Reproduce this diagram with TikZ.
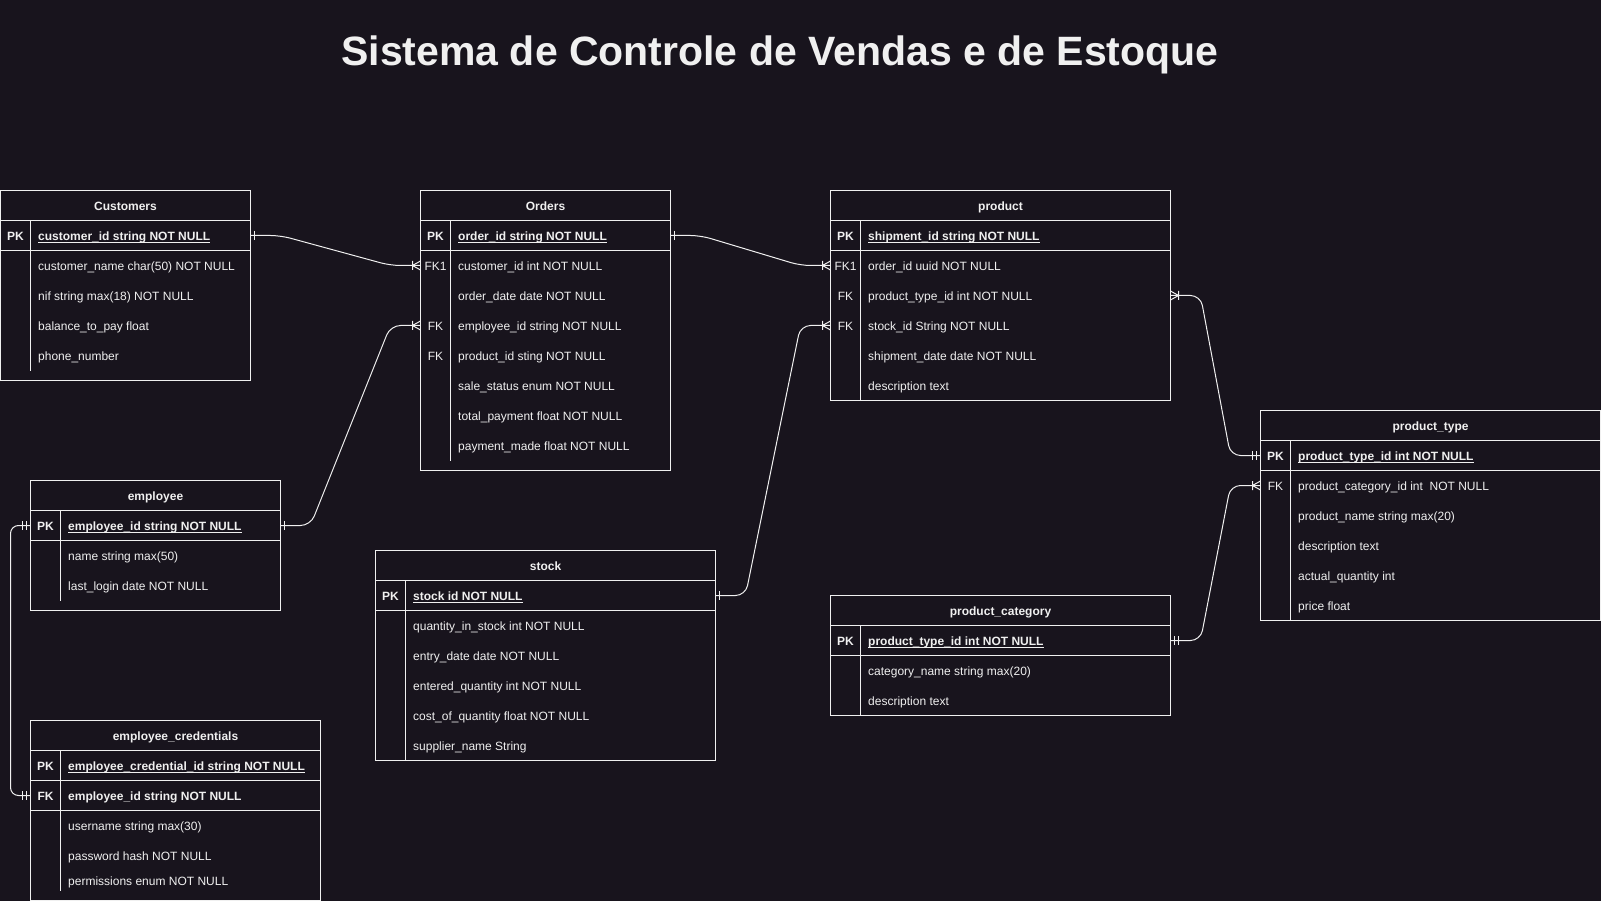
\documentclass[tikz,border=0pt]{standalone}
\usepackage{fontspec}
\setmainfont{Liberation Sans}
\usepackage{tikz}
\usetikzlibrary{calc}
\definecolor{bgc}{HTML}{18141D}
\definecolor{ink}{HTML}{F0F0F0}
\newcommand{\pkline}[1]{\setbox0\hbox{#1}\rlap{\rule[-1.8pt]{\wd0}{0.9pt}}\box0}
\tikzset{
  erbox/.style={draw=ink, line width=1pt, anchor=north west, inner sep=0pt, outer sep=0pt},
  keytxt/.style={text=ink, font=\fontsize{12}{14}\selectfont, text height=10.5pt, text depth=0pt, inner sep=0pt},
  pkkey/.style={keytxt, font=\bfseries\fontsize{12}{14}\selectfont},
  ertitle/.style={pkkey},
  fldtxt/.style={keytxt, anchor=west},
  pkfld/.style={pkkey, anchor=west},
  headline/.style={text=ink, font=\bfseries\fontsize{41}{48}\selectfont, anchor=base},
  tline/.style={draw=ink, line width=1pt},
  rel/.style={draw=ink, line width=1pt, rounded corners=10pt},
  erone/.pic={\draw[tline] (4,-4.5) -- (4,4.5);},
  ermandone/.pic={\draw[tline] (4,-4.5) -- (4,4.5) (8,-4.5) -- (8,4.5);},
  eronemany/.pic={\draw[tline] (0,-4.5) -- (8,0) -- (0,4.5) (8,-4.5) -- (8,4.5);}
}

\begin{document}
\begin{tikzpicture}[x=1pt, y=-1pt]
    \fill[bgc] (0,0) rectangle (1601,901);
    \useasboundingbox (0,0) rectangle (1601,901);
    \node[headline] (title) at (780,65.5) {Sistema de Controle de Vendas e de Estoque};

    %% Customers
    \node[erbox, minimum width=250pt, minimum height=190pt] (cust) at (0.5,190.5) {};
    \node[ertitle] (cust-t) at (125.5,205.5) {Customers};
    \draw[tline] (0.5,220.5) -- (250.5,220.5) (0.5,250.5) -- (250.5,250.5) (30.5,220.5) -- (30.5,370.5);
    \node[pkkey] (cust-k) at (15.5,235.5) {PK};
    \node[pkfld] (cust-pk) at (38,235.5) {\pkline{customer\_id string NOT NULL}};
    \node[fldtxt] (cust-1) at (38,265.5) {customer\_name char(50) NOT NULL};
    \node[fldtxt] (cust-2) at (38,295.5) {nif string max(18) NOT NULL};
    \node[fldtxt] (cust-3) at (38,325.5) {balance\_to\_pay float};
    \node[fldtxt] (cust-4) at (38,355.5) {phone\_number};

    %% Orders
    \node[erbox, minimum width=250pt, minimum height=280pt] (ord) at (420.5,190.5) {};
    \node[ertitle] (ord-t) at (545.5,205.5) {Orders};
    \draw[tline] (420.5,220.5) -- (670.5,220.5) (420.5,250.5) -- (670.5,250.5) (450.5,220.5) -- (450.5,460.5);
    \node[pkkey] (ord-k) at (435.5,235.5) {PK};
    \node[pkfld] (ord-pk) at (458,235.5) {\pkline{order\_id string NOT NULL}};
    \node[keytxt] (ord-k1) at (435.5,265.5) {FK1};
    \node[fldtxt] (ord-1) at (458,265.5) {customer\_id int NOT NULL};
    \node[fldtxt] (ord-2) at (458,295.5) {order\_date date NOT NULL};
    \node[keytxt] (ord-k3) at (435.5,325.5) {FK};
    \node[fldtxt] (ord-3) at (458,325.5) {employee\_id string NOT NULL};
    \node[keytxt] (ord-k4) at (435.5,355.5) {FK};
    \node[fldtxt] (ord-4) at (458,355.5) {product\_id sting NOT NULL};
    \node[fldtxt] (ord-5) at (458,385.5) {sale\_status enum NOT NULL};
    \node[fldtxt] (ord-6) at (458,415.5) {total\_payment float NOT NULL};
    \node[fldtxt] (ord-7) at (458,445.5) {payment\_made float NOT NULL};

    %% product
    \node[erbox, minimum width=340pt, minimum height=210pt] (prod) at (830.5,190.5) {};
    \node[ertitle] (prod-t) at (1000.5,205.5) {product};
    \draw[tline] (830.5,220.5) -- (1170.5,220.5) (830.5,250.5) -- (1170.5,250.5) (860.5,220.5) -- (860.5,400.5);
    \node[pkkey] (prod-k) at (845.5,235.5) {PK};
    \node[pkfld] (prod-pk) at (868,235.5) {\pkline{shipment\_id string NOT NULL}};
    \node[keytxt] (prod-k1) at (845.5,265.5) {FK1};
    \node[fldtxt] (prod-1) at (868,265.5) {order\_id uuid NOT NULL};
    \node[keytxt] (prod-k2) at (845.5,295.5) {FK};
    \node[fldtxt] (prod-2) at (868,295.5) {product\_type\_id int NOT NULL};
    \node[keytxt] (prod-k3) at (845.5,325.5) {FK};
    \node[fldtxt] (prod-3) at (868,325.5) {stock\_id String NOT NULL};
    \node[fldtxt] (prod-4) at (868,355.5) {shipment\_date date NOT NULL};
    \node[fldtxt] (prod-5) at (868,385.5) {description text};

    %% product_type
    \node[erbox, minimum width=340pt, minimum height=210pt] (ptype) at (1260.5,410.5) {};
    \node[ertitle] (ptype-t) at (1430.5,425.5) {product\_type};
    \draw[tline] (1260.5,440.5) -- (1600.5,440.5) (1260.5,470.5) -- (1600.5,470.5) (1290.5,440.5) -- (1290.5,620.5);
    \node[pkkey] (ptype-k) at (1275.5,455.5) {PK};
    \node[pkfld] (ptype-pk) at (1298,455.5) {\pkline{product\_type\_id int NOT NULL}};
    \node[keytxt] (ptype-k1) at (1275.5,485.5) {FK};
    \node[fldtxt] (ptype-1) at (1298,485.5) {product\_category\_id int~ NOT NULL};
    \node[fldtxt] (ptype-2) at (1298,515.5) {product\_name string max(20)};
    \node[fldtxt] (ptype-3) at (1298,545.5) {description text};
    \node[fldtxt] (ptype-4) at (1298,575.5) {actual\_quantity int};
    \node[fldtxt] (ptype-5) at (1298,605.5) {price float};

    %% employee
    \node[erbox, minimum width=250pt, minimum height=130pt] (emp) at (30.5,480.5) {};
    \node[ertitle] (emp-t) at (155.5,495.5) {employee};
    \draw[tline] (30.5,510.5) -- (280.5,510.5) (30.5,540.5) -- (280.5,540.5) (60.5,510.5) -- (60.5,600.5);
    \node[pkkey] (emp-k) at (45.5,525.5) {PK};
    \node[pkfld] (emp-pk) at (68,525.5) {\pkline{employee\_id string NOT NULL}};
    \node[fldtxt] (emp-1) at (68,555.5) {name string max(50)};
    \node[fldtxt] (emp-2) at (68,585.5) {last\_login date NOT NULL};

    %% employee_credentials
    \node[erbox, minimum width=290pt, minimum height=180pt] (cred) at (30.5,720.5) {};
    \node[ertitle] (cred-t) at (175.5,735.5) {employee\_credentials};
    \draw[tline] (30.5,750.5) -- (320.5,750.5) (30.5,780.5) -- (320.5,780.5) (30.5,810.5) -- (320.5,810.5) (60.5,750.5) -- (60.5,890.5);
    \node[pkkey] (cred-k) at (45.5,765.5) {PK};
    \node[pkfld] (cred-pk) at (68,765.5) {\pkline{employee\_credential\_id string NOT NULL}};
    \node[pkkey] (cred-kf) at (45.5,795.5) {FK};
    \node[pkfld] (cred-fk) at (68,795.5) {employee\_id string NOT NULL};
    \node[fldtxt] (cred-1) at (68,825.5) {username string max(30)};
    \node[fldtxt] (cred-2) at (68,855.5) {password hash NOT NULL};
    \node[fldtxt] (cred-3) at (68,880.5) {permissions enum NOT NULL};

    %% stock
    \node[erbox, minimum width=340pt, minimum height=210pt] (stock) at (375.5,550.5) {};
    \node[ertitle] (stock-t) at (545.5,565.5) {stock};
    \draw[tline] (375.5,580.5) -- (715.5,580.5) (375.5,610.5) -- (715.5,610.5) (405.5,580.5) -- (405.5,760.5);
    \node[pkkey] (stock-k) at (390.5,595.5) {PK};
    \node[pkfld] (stock-pk) at (413,595.5) {\pkline{stock id NOT NULL}};
    \node[fldtxt] (stock-1) at (413,625.5) {quantity\_in\_stock int NOT NULL};
    \node[fldtxt] (stock-2) at (413,655.5) {entry\_date date NOT NULL};
    \node[fldtxt] (stock-3) at (413,685.5) {entered\_quantity int NOT NULL};
    \node[fldtxt] (stock-4) at (413,715.5) {cost\_of\_quantity float NOT NULL};
    \node[fldtxt] (stock-5) at (413,745.5) {supplier\_name String};

    %% product_category
    \node[erbox, minimum width=340pt, minimum height=120pt] (pcat) at (830.5,595.5) {};
    \node[ertitle] (pcat-t) at (1000.5,610.5) {product\_category};
    \draw[tline] (830.5,625.5) -- (1170.5,625.5) (830.5,655.5) -- (1170.5,655.5) (860.5,625.5) -- (860.5,715.5);
    \node[pkkey] (pcat-k) at (845.5,640.5) {PK};
    \node[pkfld] (pcat-pk) at (868,640.5) {\pkline{product\_type\_id int NOT NULL}};
    \node[fldtxt] (pcat-1) at (868,670.5) {category\_name string max(20)};
    \node[fldtxt] (pcat-2) at (868,700.5) {description text};

    %% relations: one side bars, many side crow's feet
    \draw[rel] (cust.east |- cust-pk) -- ++(30,0) -- ($(ord.west |- ord-1)+(-30,0)$) -- (ord.west |- ord-1);
    \pic at (cust.east |- cust-pk) {erone};
    \pic[xscale=-1] at (ord.west |- ord-1) {eronemany};
    \draw[rel] (ord.east |- ord-pk) -- ++(30,0) -- ($(prod.west |- prod-1)+(-30,0)$) -- (prod.west |- prod-1);
    \pic at (ord.east |- ord-pk) {erone};
    \pic[xscale=-1] at (prod.west |- prod-1) {eronemany};
    \draw[rel] (emp.east |- emp-pk) -- ++(30,0) -- ($(ord.west |- ord-3)+(-30,0)$) -- (ord.west |- ord-3);
    \pic at (emp.east |- emp-pk) {erone};
    \pic[xscale=-1] at (ord.west |- ord-3) {eronemany};
    \draw[rel] (stock.east |- stock-pk) -- ++(30,0) -- ($(prod.west |- prod-3)+(-30,0)$) -- (prod.west |- prod-3);
    \pic at (stock.east |- stock-pk) {erone};
    \pic[xscale=-1] at (prod.west |- prod-3) {eronemany};
    \draw[rel] (prod.east |- prod-2) -- ++(30,0) -- ($(ptype.west |- ptype-pk)+(-30,0)$) -- (ptype.west |- ptype-pk);
    \pic at (prod.east |- prod-2) {eronemany};
    \pic[xscale=-1] at (ptype.west |- ptype-pk) {ermandone};
    \draw[rel] (pcat.east |- pcat-pk) -- ++(30,0) -- ($(ptype.west |- ptype-1)+(-30,0)$) -- (ptype.west |- ptype-1);
    \pic at (pcat.east |- pcat-pk) {ermandone};
    \pic[xscale=-1] at (ptype.west |- ptype-1) {eronemany};
    %% employee to its credentials, round the left side
    \draw[rel, rounded corners=8pt] (emp.west |- emp-pk) -- ++(-20,0) |- (cred.west |- cred-fk);
    \pic[xscale=-1] at (emp.west |- emp-pk) {ermandone};
    \pic[xscale=-1] at (cred.west |- cred-fk) {ermandone};
\end{tikzpicture}
\end{document}
